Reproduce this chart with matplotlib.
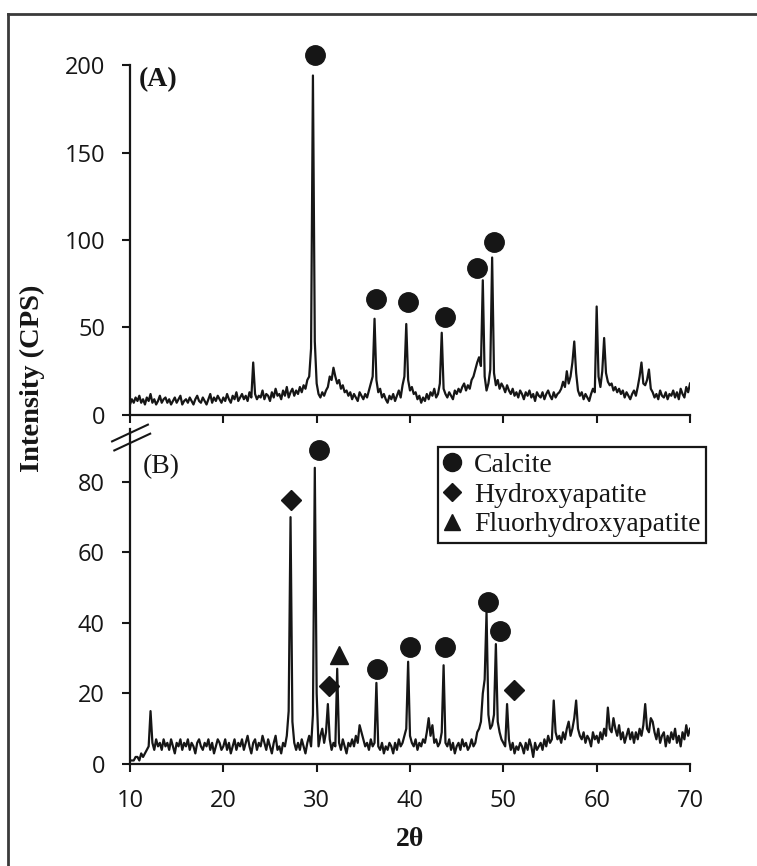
import numpy as np
import matplotlib
matplotlib.use("Agg")
import matplotlib.pyplot as plt
from matplotlib.lines import Line2D

# ---------------------------------------------------------------------------
# XRD scans, 2-theta from 10 to 70 degrees in 0.2 degree steps (counts per second)
# ---------------------------------------------------------------------------
SCAN_START, SCAN_STOP, SCAN_STEP = 10.0, 70.0, 0.2

# Sample (A)
counts_a = [
    6, 9, 7, 10, 8, 11, 7, 9, 6, 10,          # 10.0 - 11.8
    8, 12, 7, 9, 6, 8, 11, 7, 9, 10,          # 12.0 - 13.8
    7, 9, 6, 8, 10, 7, 9, 11, 6, 8,           # 14.0 - 15.8
    9, 7, 10, 8, 6, 9, 11, 8, 7, 10,          # 16.0 - 17.8
    8, 6, 9, 12, 7, 10, 8, 11, 9, 7,          # 18.0 - 19.8
    10, 8, 12, 9, 7, 11, 9, 13, 8, 10,        # 20.0 - 21.8
    12, 9, 11, 8, 13, 10, 30, 12, 9, 11,      # 22.0 - 23.8
    10, 14, 9, 12, 11, 8, 13, 10, 15, 11,     # 24.0 - 25.8
    12, 9, 14, 11, 16, 10, 13, 15, 11, 14,    # 26.0 - 27.8
    12, 16, 13, 17, 15, 20, 22, 38, 194, 42,  # 28.0 - 29.8
    18, 12, 10, 13, 11, 14, 16, 22, 20, 27,   # 30.0 - 31.8
    22, 18, 20, 15, 17, 13, 14, 11, 13, 9,    # 32.0 - 33.8
    12, 10, 8, 13, 11, 9, 12, 10, 14, 18,     # 34.0 - 35.8
    22, 55, 20, 13, 15, 10, 12, 9, 7, 11,     # 36.0 - 37.8
    9, 12, 8, 11, 14, 10, 17, 22, 52, 20,     # 38.0 - 39.8
    14, 16, 12, 13, 9, 11, 7, 10, 8, 12,      # 40.0 - 41.8
    9, 13, 11, 15, 10, 12, 18, 47, 15, 12,    # 42.0 - 43.8
    10, 13, 11, 9, 14, 12, 15, 13, 16, 18,    # 44.0 - 45.8
    14, 17, 15, 20, 22, 26, 30, 33, 28, 77,   # 46.0 - 47.8
    22, 14, 18, 26, 90, 24, 17, 20, 15, 18,   # 48.0 - 49.8
    16, 13, 17, 14, 12, 15, 11, 13, 10, 14,   # 50.0 - 51.8
    12, 9, 13, 11, 14, 10, 12, 8, 13, 11,     # 52.0 - 53.8
    10, 13, 9, 12, 14, 11, 9, 13, 10, 12,     # 54.0 - 55.8
    13, 15, 19, 16, 25, 18, 22, 30, 42, 24,   # 56.0 - 57.8
    14, 11, 13, 9, 12, 10, 8, 12, 15, 13,     # 58.0 - 59.8
    62, 22, 16, 25, 44, 24, 19, 17, 18, 14,   # 60.0 - 61.8
    16, 13, 15, 12, 14, 10, 13, 11, 9, 12,    # 62.0 - 63.8
    14, 11, 16, 22, 30, 18, 17, 20, 26, 15,   # 64.0 - 65.8
    13, 10, 12, 9, 14, 11, 10, 13, 9, 12,     # 66.0 - 67.8
    11, 14, 10, 13, 9, 15, 12, 10, 16, 13,    # 68.0 - 69.8
    18,                                       # 70.0
]

# Sample (B)
counts_b = [
    1, 1, 1, 2, 2, 1, 3, 2, 3, 4,             # 10.0 - 11.8
    5, 15, 6, 4, 7, 5, 6, 4, 7, 5,            # 12.0 - 13.8
    6, 4, 7, 5, 3, 6, 5, 7, 4, 6,             # 14.0 - 15.8
    5, 7, 4, 6, 5, 3, 6, 7, 5, 4,             # 16.0 - 17.8
    6, 5, 7, 4, 6, 3, 5, 7, 6, 4,             # 18.0 - 19.8
    5, 7, 4, 6, 3, 5, 7, 4, 6, 5,             # 20.0 - 21.8
    7, 4, 6, 8, 5, 3, 6, 7, 4, 6,             # 22.0 - 23.8
    5, 8, 6, 4, 7, 5, 3, 6, 8, 4,             # 24.0 - 25.8
    5, 3, 6, 5, 8, 15, 70, 12, 6, 4,          # 26.0 - 27.8
    6, 4, 7, 5, 3, 6, 8, 5, 14, 84,           # 28.0 - 29.8
    20, 5, 8, 10, 6, 9, 17, 7, 4, 6,          # 30.0 - 31.8
    5, 27, 6, 4, 7, 5, 3, 6, 5, 7,            # 32.0 - 33.8
    5, 8, 6, 11, 9, 7, 5, 6, 4, 7,            # 34.0 - 35.8
    5, 6, 23, 5, 4, 6, 3, 5, 4, 6,            # 36.0 - 37.8
    5, 3, 6, 4, 7, 5, 6, 8, 10, 29,           # 38.0 - 39.8
    8, 6, 5, 7, 4, 6, 5, 7, 6, 9,             # 40.0 - 41.8
    13, 8, 11, 6, 7, 5, 6, 9, 28, 6,          # 42.0 - 43.8
    5, 7, 4, 6, 3, 5, 6, 4, 7, 5,             # 44.0 - 45.8
    6, 4, 5, 7, 5, 6, 9, 10, 12, 20,          # 46.0 - 47.8
    24, 43, 14, 10, 11, 14, 34, 12, 9, 7,     # 48.0 - 49.8
    6, 5, 17, 7, 4, 6, 3, 5, 4, 6,            # 50.0 - 51.8
    5, 3, 6, 4, 7, 5, 2, 6, 4, 5,             # 52.0 - 53.8
    6, 4, 7, 5, 8, 6, 7, 18, 9, 7,            # 54.0 - 55.8
    8, 6, 9, 7, 10, 12, 8, 10, 13, 18,        # 56.0 - 57.8
    10, 8, 7, 9, 6, 8, 7, 5, 9, 7,            # 58.0 - 59.8
    8, 6, 9, 7, 10, 8, 16, 10, 9, 13,         # 60.0 - 61.8
    10, 8, 11, 7, 9, 6, 8, 10, 7, 9,          # 62.0 - 63.8
    6, 9, 7, 10, 8, 11, 17, 10, 9, 13,        # 64.0 - 65.8
    12, 9, 7, 10, 6, 8, 9, 5, 8, 6,           # 66.0 - 67.8
    9, 7, 10, 6, 8, 5, 9, 7, 11, 8,           # 68.0 - 69.8
    10,                                       # 70.0
]

# Phase identification symbols (2-theta, CPS)
calcite_a_2theta = [29.8, 36.4, 39.8, 43.7, 47.2, 49.05]
calcite_a_cps = [206, 66, 64.5, 56, 84, 99]

calcite_b_2theta = [30.25, 36.45, 40.05, 43.7, 48.4, 49.6]
calcite_b_cps = [89, 27, 33.3, 33.3, 46, 37.6]
hydroxyapatite_b_2theta = [27.2, 31.3, 51.15]
hydroxyapatite_b_cps = [75, 22, 21]
fluorhydroxyapatite_b_2theta = [32.4]
fluorhydroxyapatite_b_cps = [31]

phase_labels = ["Calcite", "Hydroxyapatite", "Fluorhydroxyapatite"]
x_ticks = [10, 20, 30, 40, 50, 60, 70]
y_ticks_a = [0, 50, 100, 150, 200]
y_ticks_b = [0, 20, 40, 60, 80]

two_theta = np.round(np.arange(SCAN_START, SCAN_STOP + SCAN_STEP / 2, SCAN_STEP), 1)
assert len(two_theta) == len(counts_a) == len(counts_b)

# ---------------------------------------------------------------------------
plt.rcParams["font.family"] = ["Open Sans", "DejaVu Sans"]
SERIF = "Liberation Serif"
INK = "#161616"

W, H = 757, 866
fig = plt.figure(figsize=(W / 100, H / 100), dpi=100)


def px_box(left, top, right, bottom):
    return [left / W, 1 - bottom / H, (right - left) / W, (bottom - top) / H]


ax_a = fig.add_axes(px_box(130, 65, 690, 415))
ax_b = fig.add_axes(px_box(130, 429, 690, 764))

for ax in (ax_a, ax_b):
    ax.spines["top"].set_visible(False)
    ax.spines["right"].set_visible(False)
    for side in ("left", "bottom"):
        ax.spines[side].set_linewidth(1.6)
        ax.spines[side].set_color(INK)
    ax.set_xlim(SCAN_START, SCAN_STOP)
    ax.set_xticks(x_ticks)
    ax.tick_params(direction="out", length=6, width=1.5, pad=12, labelsize=17, colors=INK)

ax_a.set_ylim(0, 200)
ax_a.set_yticks(y_ticks_a)
ax_a.tick_params(axis="x", labelbottom=False)
ax_b.set_ylim(0, 95)
ax_b.set_yticks(y_ticks_b)

# Diffraction traces
ax_a.plot(two_theta, counts_a, color=INK, lw=1.6, zorder=2)
ax_b.plot(two_theta, counts_b, color=INK, lw=1.6, zorder=2)

# Phase markers
mk = dict(ls="none", color=INK, clip_on=False, zorder=3)
ax_a.plot(calcite_a_2theta, calcite_a_cps, marker="o", ms=14, **mk)
ax_b.plot(calcite_b_2theta, calcite_b_cps, marker="o", ms=14, **mk)
ax_b.plot(hydroxyapatite_b_2theta, hydroxyapatite_b_cps, marker="D", ms=10.5, **mk)
ax_b.plot(fluorhydroxyapatite_b_2theta, fluorhydroxyapatite_b_cps, marker="^", ms=13, **mk)

# Panel letters
ax_a.text(0.05, 0.957, "(A)", transform=ax_a.transAxes, ha="center", va="center",
          family=SERIF, weight="bold", size=20, color=INK)
ax_b.text(0.055, 0.887, "(B)", transform=ax_b.transAxes, ha="center", va="center",
          family=SERIF, size=20, color=INK)

# Axis-break marks at the top of the lower panel's y axis
for yc, xc in ((0.988, 0.0), (0.961, 0.004)):
    ax_b.plot([xc - 0.032, xc + 0.032], [yc - 0.025, yc + 0.025], transform=ax_b.transAxes,
              color=INK, lw=1.5, clip_on=False, zorder=4)

# Legend
handles = [
    Line2D([], [], ls="none", marker="o", ms=13, color=INK),
    Line2D([], [], ls="none", marker="D", ms=9.5, color=INK),
    Line2D([], [], ls="none", marker="^", ms=12, color=INK),
]
leg = ax_b.legend(handles, phase_labels, loc="upper left", bbox_to_anchor=(0.55, 0.946),
                  bbox_transform=ax_b.transAxes, borderaxespad=0, frameon=True,
                  fancybox=False, edgecolor=INK, framealpha=1,
                  prop={"family": SERIF, "size": 20}, handlelength=0.6,
                  handletextpad=0.5, labelspacing=0.15, borderpad=0.2)
leg.get_frame().set_linewidth(1.6)
for t in leg.get_texts():
    t.set_color(INK)

# Axis titles
fig.text(32 / W, 1 - 378 / H, "Intensity (CPS)", rotation=90, ha="center", va="center",
         family=SERIF, weight="bold", size=20.5, color=INK)
fig.text(410 / W, 1 - 840 / H, "2θ", ha="center", va="center",
         family=SERIF, weight="bold", size=20, color=INK)

# Outer frame
frame_kw = dict(color="#3a3a3a", lw=2.0, transform=fig.transFigure)
fig.add_artist(Line2D([8 / W, 8 / W], [0, 1 - 14 / H], **frame_kw))
fig.add_artist(Line2D([8 / W, 1], [1 - 14 / H, 1 - 14 / H], **frame_kw))

fig.savefig("out.png", dpi=100)
